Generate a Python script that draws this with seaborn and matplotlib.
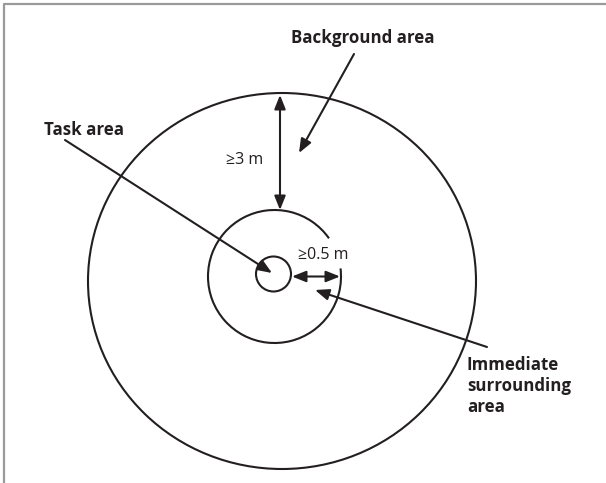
import seaborn as sns
import matplotlib.pyplot as plt
from matplotlib.patches import Arc, Ellipse, Circle

# Labels of the zones and the distances between them
zone_labels = ["Background area", "Task area", "Immediate\nsurrounding\narea"]
distance_labels = ["\u22653 m", "\u22650.5 m"]

ink = "#231f20"
frame_grey = "#9a9a9a"

sns.set_theme(style="white")
plt.rcParams['font.family'] = ['Open Sans', 'DejaVu Sans']

fig = plt.figure(figsize=(6.06, 4.83), dpi=100)
ax = fig.add_axes([0, 0, 1, 1])
ax.set_xlim(0, 606)
ax.set_ylim(483, 0)
ax.set_axis_off()

# grey frame on top and left
sns.lineplot(x=[4, 4, 606], y=[483, 4, 4], ax=ax, color=frame_grey, linewidth=1.6,
             sort=False, estimator=None)

# background area (outer circle)
ax.add_patch(Ellipse((282, 281), 388, 376, fill=False, edgecolor=ink, linewidth=1.5))
# immediate surrounding area (open circle)
ax.add_patch(Arc((274.5, 276.5), 133, 133, theta1=-7, theta2=325, edgecolor=ink, linewidth=1.5))
# task area (small circle)
ax.add_patch(Circle((273.5, 274), 17.5, fill=False, edgecolor=ink, linewidth=1.5))

arrow_kw = dict(arrowstyle="-|>,head_length=0.7,head_width=0.28", color=ink, lw=1.5,
                shrinkA=0, shrinkB=0)
double_kw = dict(arrowstyle="<|-|>,head_length=0.7,head_width=0.28", color=ink, lw=1.5,
                 shrinkA=0, shrinkB=0)

# zone labels with pointers
ax.text(291, 38, zone_labels[0], ha="left", va="center", fontsize=12.2, fontweight="bold", color=ink)
ax.annotate("", xy=(299, 153), xytext=(354, 54), arrowprops=arrow_kw)

ax.text(44, 130, zone_labels[1], ha="left", va="center", fontsize=12.2, fontweight="bold", color=ink)
ax.annotate("", xy=(272, 273), xytext=(65, 140), arrowprops=arrow_kw)

ax.text(467, 356, zone_labels[2], ha="left", va="top", fontsize=12.2, fontweight="bold", color=ink,
        linespacing=1.2)
ax.annotate("", xy=(315, 290), xytext=(487, 347), arrowprops=arrow_kw)

# distances
ax.annotate("", xy=(280, 95), xytext=(280, 210), arrowprops=double_kw)
ax.text(263, 160, distance_labels[0], ha="right", va="center", fontsize=11.5, color=ink)

ax.annotate("", xy=(292, 276.5), xytext=(340, 276.5), arrowprops=double_kw)
ax.text(323, 255, distance_labels[1], ha="center", va="center", fontsize=11.5, color=ink)

plt.savefig("out.png", dpi=100)
plt.close()
